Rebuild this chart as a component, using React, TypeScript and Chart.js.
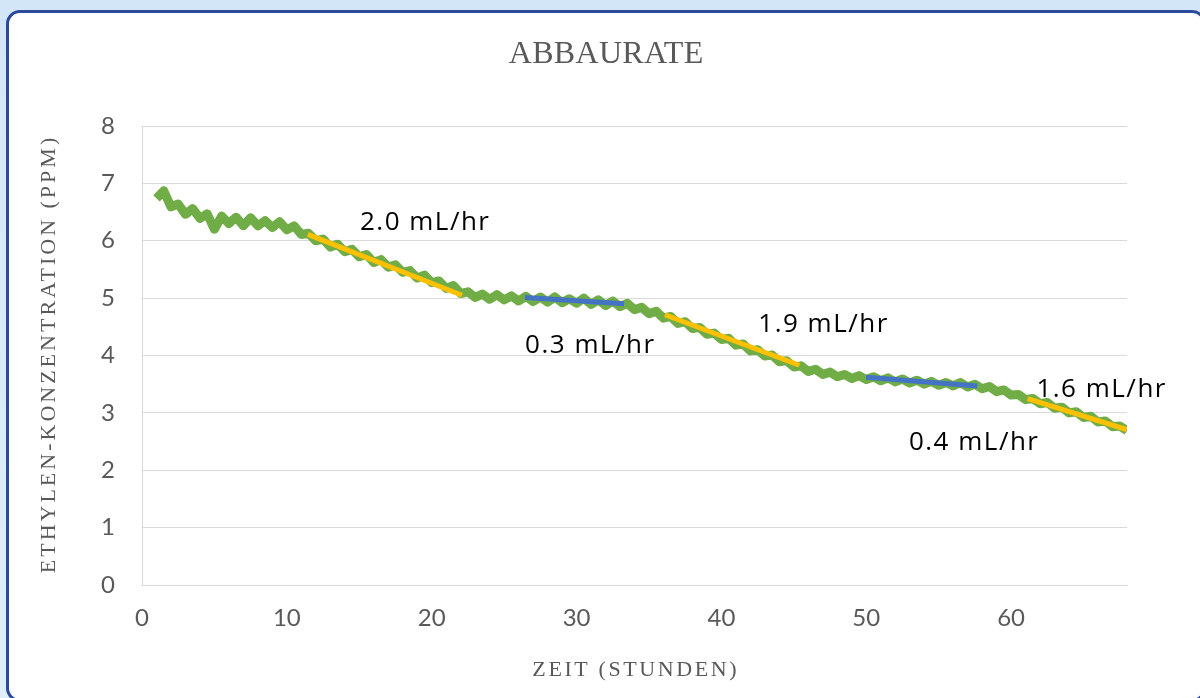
import React, { useEffect, useRef } from "react";
import { Chart, registerables } from "chart.js";

Chart.register(...registerables);

// ---------- data ----------
const timeHours = [
  1.0, 1.5, 2.0, 2.5, 3.0, 3.5, 4.0, 4.5, 5.0, 5.5, 6.0, 6.5, 7.0, 7.5, 8.0, 8.5, 9.0, 9.5, 10.0, 10.5,
  11.0, 11.5, 12.0, 12.5, 13.0, 13.5, 14.0, 14.5, 15.0, 15.5, 16.0, 16.5, 17.0, 17.5, 18.0, 18.5, 19.0, 19.5, 20.0, 20.5,
  21.0, 21.5, 22.0, 22.5, 23.0, 23.5, 24.0, 24.5, 25.0, 25.5, 26.0, 26.5, 27.0, 27.5, 28.0, 28.5, 29.0, 29.5, 30.0, 30.5,
  31.0, 31.5, 32.0, 32.5, 33.0, 33.5, 34.0, 34.5, 35.0, 35.5, 36.0, 36.5, 37.0, 37.5, 38.0, 38.5, 39.0, 39.5, 40.0, 40.5,
  41.0, 41.5, 42.0, 42.5, 43.0, 43.5, 44.0, 44.5, 45.0, 45.5, 46.0, 46.5, 47.0, 47.5, 48.0, 48.5, 49.0, 49.5, 50.0, 50.5,
  51.0, 51.5, 52.0, 52.5, 53.0, 53.5, 54.0, 54.5, 55.0, 55.5, 56.0, 56.5, 57.0, 57.5, 58.0, 58.5, 59.0, 59.5, 60.0, 60.5,
  61.0, 61.5, 62.0, 62.5, 63.0, 63.5, 64.0, 64.5, 65.0, 65.5, 66.0, 66.5, 67.0, 67.5, 68.0,
];

const ethylenePpm = [
  6.74, 6.87, 6.59, 6.64, 6.46, 6.56, 6.39, 6.47, 6.2, 6.43, 6.3, 6.41, 6.26, 6.4, 6.26, 6.35, 6.23, 6.33, 6.19, 6.26,
  6.11, 6.13, 6.0, 6.03, 5.89, 5.94, 5.81, 5.85, 5.72, 5.76, 5.62, 5.67, 5.54, 5.58, 5.45, 5.48, 5.35, 5.4, 5.27, 5.3,
  5.17, 5.22, 5.08, 5.11, 5.01, 5.07, 4.98, 5.06, 4.97, 5.04, 4.95, 5.03, 4.94, 5.02, 4.93, 5.02, 4.92, 4.99, 4.91, 5.0,
  4.89, 4.97, 4.87, 4.95, 4.85, 4.91, 4.8, 4.84, 4.73, 4.77, 4.65, 4.68, 4.56, 4.59, 4.47, 4.49, 4.37, 4.39, 4.28, 4.3,
  4.18, 4.2, 4.08, 4.1, 3.99, 4.01, 3.89, 3.91, 3.8, 3.82, 3.72, 3.76, 3.67, 3.71, 3.63, 3.67, 3.6, 3.65, 3.58, 3.63,
  3.56, 3.61, 3.54, 3.59, 3.52, 3.57, 3.5, 3.55, 3.48, 3.53, 3.47, 3.53, 3.45, 3.5, 3.42, 3.46, 3.37, 3.4, 3.31, 3.32,
  3.23, 3.25, 3.16, 3.18, 3.08, 3.1, 3.0, 3.02, 2.92, 2.94, 2.84, 2.86, 2.76, 2.77, 2.69,
];

const fitStartHours = [11.45, 26.44, 36.1, 49.98, 61.14];
const fitStartPpm = [6.11, 5.01, 4.71, 3.62, 3.25];
const fitEndHours = [22.09, 33.28, 45.38, 57.66, 67.98];
const fitEndPpm = [5.05, 4.9, 3.83, 3.47, 2.71];
const fitKinds = ["fast", "slow", "fast", "slow", "fast"];

const rateLabels = ["2.0 mL/hr", "0.3 mL/hr", "1.9 mL/hr", "0.4 mL/hr", "1.6 mL/hr"];
const rateLabelHours = [19.5, 30.9, 47.0, 57.4, 66.2];
const rateLabelPpm = [6.34, 4.2, 4.57, 2.51, 3.44];

const chartTitle = "ABBAURATE";
const xAxisTitle = "ZEIT (STUNDEN)";
const yAxisTitle = "ETHYLEN-KONZENTRATION (PPM)";
const xMin = 0;
const xMax = 68;
const xStep = 10;
const yMin = 0;
const yMax = 8;
const yStep = 1;

// ---------- styles ----------
const GREEN = "#70AD47";
const ORANGE = "#FFC000";
const BLUE = "#4472C4";
const GRID = "#d9d9d9";
const AXIS_TEXT = "#595959";

function drawCapCentered(ctx: CanvasRenderingContext2D, text: string, x: number, y: number) {
  const cap = ctx.measureText("H").actualBoundingBoxAscent;
  const w = ctx.measureText(text).width;
  const ls = parseFloat((ctx as any).letterSpacing || "0") || 0;
  ctx.textAlign = "left";
  ctx.textBaseline = "alphabetic";
  ctx.fillText(text, x - (w - ls) / 2, y + cap / 2);
}

const decorPlugin = {
  id: "decor",
  afterDatasetsDraw(chart: any) {
    const ctx: CanvasRenderingContext2D = chart.ctx;
    const xs = chart.scales.x;
    const ys = chart.scales.y;
    ctx.save();
    ctx.fillStyle = "#000000";
    ctx.font = '26px "Open Sans"';
    (ctx as any).letterSpacing = "1.5px";
    rateLabels.forEach((t, i) => {
      drawCapCentered(ctx, t, xs.getPixelForValue(rateLabelHours[i]), ys.getPixelForValue(rateLabelPpm[i]));
    });
    ctx.restore();
  },
  afterDraw(chart: any) {
    const ctx: CanvasRenderingContext2D = chart.ctx;
    const area = chart.chartArea;
    ctx.save();
    ctx.fillStyle = AXIS_TEXT;
    // chart title
    ctx.font = '32px "Liberation Serif"';
    (ctx as any).letterSpacing = "0.3px";
    drawCapCentered(ctx, chartTitle, 606, 52);
    // x title
    ctx.font = '22px "Liberation Serif"';
    (ctx as any).letterSpacing = "2.6px";
    drawCapCentered(ctx, xAxisTitle, (area.left + area.right) / 2, 669);
    // y title
    ctx.font = '22px "Liberation Serif"';
    (ctx as any).letterSpacing = "3px";
    ctx.translate(48, (area.top + area.bottom) / 2);
    ctx.rotate(-Math.PI / 2);
    drawCapCentered(ctx, yAxisTitle, 0, 0);
    ctx.restore();
  },
};

export default function App() {
  const canvasRef = useRef<HTMLCanvasElement | null>(null);

  useEffect(() => {
    if (!canvasRef.current) return;
    const fitDatasets = fitKinds.map((k, i) => ({
      type: "line" as const,
      data: [
        { x: fitStartHours[i], y: fitStartPpm[i] },
        { x: fitEndHours[i], y: fitEndPpm[i] },
      ],
      borderColor: k === "fast" ? ORANGE : BLUE,
      borderWidth: 5,
      pointRadius: 0,
      borderCapStyle: "butt" as const,
      order: 0,
    }));
    const chart = new Chart(canvasRef.current, {
      type: "line",
      data: {
        datasets: [
          ...fitDatasets,
          {
            data: timeHours.map((x, i) => ({ x, y: ethylenePpm[i] })),
            borderColor: GREEN,
            borderWidth: 9,
            pointRadius: 0,
            tension: 0,
            borderJoinStyle: "round",
            borderCapStyle: "butt",
            order: 1,
          } as any,
        ],
      },
      options: {
        animation: false,
        responsive: false,
        devicePixelRatio: 1,
        events: [],
        layout: { padding: { top: 126, right: 73, left: 0, bottom: 0 } },
        plugins: { legend: { display: false }, tooltip: { enabled: false }, title: { display: false } },
        scales: {
          x: {
            type: "linear",
            min: xMin,
            max: xMax,
            grid: { display: false, drawTicks: false },
            border: { display: true, color: GRID, width: 1 },
            ticks: {
              stepSize: xStep,
              includeBounds: false,
              color: AXIS_TEXT,
              font: { family: "Lato", size: 24 },
              padding: 19,
              maxRotation: 0,
            },
            afterFit: (s: any) => {
              s.height = 113;
            },
          },
          y: {
            type: "linear",
            min: yMin,
            max: yMax,
            grid: { color: GRID, lineWidth: 1, drawTicks: false },
            border: { display: true, color: GRID, width: 1 },
            ticks: {
              stepSize: yStep,
              color: AXIS_TEXT,
              font: { family: "Lato", size: 24 },
              padding: 27,
            },
            afterFit: (s: any) => {
              s.width = 142;
            },
          },
        },
      },
      plugins: [decorPlugin],
    });
    return () => chart.destroy();
  }, []);

  return (
    <div
      style={{
        position: "fixed",
        left: 0,
        top: 0,
        width: 1200,
        height: 698,
        overflow: "hidden",
        background: "linear-gradient(180deg, #d3e6f8 0%, #dfeefb 100%)",
      }}
    >
      <div
        style={{
          position: "absolute",
          left: 6,
          top: 10,
          width: 1200,
          height: 692,
          boxSizing: "border-box",
          border: "3px solid #2c4a9c",
          borderRadius: 14,
          background: "#ffffff",
        }}
      />
      <canvas
        ref={canvasRef}
        width={1200}
        height={698}
        style={{ position: "absolute", left: 0, top: 0, width: 1200, height: 698, display: "block" }}
      />
    </div>
  );
}
